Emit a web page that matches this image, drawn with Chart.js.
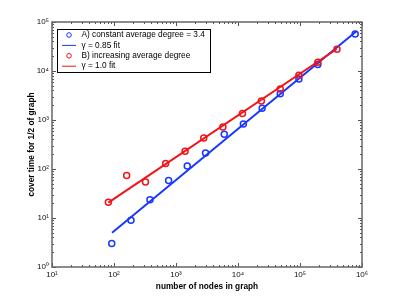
<!DOCTYPE html>
<html>
<head>
<meta charset="utf-8">
<script src="https://cdn.jsdelivr.net/npm/chart.js@4"></script>
<style>
  html, body { margin: 0; padding: 0; background: #fff; }
  #wrap { width: 400px; height: 300px; }
</style>
</head>
<body>
<div id="wrap"><canvas id="chart" width="400" height="300"></canvas></div>
<script>
// values
const blueX = [92, 188, 380, 760, 1520, 3000, 6000, 12200, 24500, 48000, 96000, 194000, 776000];
const blueY = [3.0, 9.0, 23.7, 58, 115, 213, 510, 830, 1730, 3450, 6900, 13500, 57000];
const blueFitX = [93, 813000];
const blueFitY = [5.0, 64500];

const redX = [81, 160, 322, 680, 1400, 2800, 5700, 11800, 23800, 48000, 96000, 194000, 395000];
const redY = [21, 74, 54, 129, 230, 430, 720, 1350, 2450, 4300, 8200, 15000, 27700];
const redFitX = [81, 391000];
const redFitY = [20.6, 28100];

const labels = ['A) constant average degree = 3.4', '\u03B3 = 0.85 fit', 'B) increasing average degree', '\u03B3 = 1.0 fit'];

const xMajor = [10, 100, 1000, 10000, 100000, 1000000];
const xTickLabels = ['10\u00B9', '10\u00B2', '10\u00B3', '10\u2074', '10\u2075', '10\u2076'];
const yMajor = [1, 10, 100, 1000, 10000, 100000];
const yTickLabels = ['10\u2070', '10\u00B9', '10\u00B2', '10\u00B3', '10\u2074', '10\u2075'];

const BLUE = 'rgb(25,55,255)';
const RED = 'rgb(240,20,25)';
const FONT = "'Liberation Sans', Helvetica, Arial, sans-serif";

// decade ticks plus the 2..9 minors in between
function withMinors(major){
  const out = [];
  major.forEach((m, i) => {
    out.push(m);
    if(i < major.length - 1) for(let k = 2; k <= 9; k++) out.push(m * k);
  });
  return out;
}
const xTicks = withMinors(xMajor);
const yTicks = withMinors(yMajor);

const pts = (xs, ys) => xs.map((x, i) => ({x: x, y: ys[i]}));

// box with inward ticks on all four sides
const boxTicks = {
  id: 'boxTicks',
  beforeDatasetsDraw(chart){
    const {ctx, chartArea: a, scales} = chart;
    ctx.save();
    ctx.strokeStyle = '#555';
    ctx.lineWidth = 1;
    ctx.beginPath();
    xTicks.forEach(v => {
      const px = Math.round(scales.x.getPixelForValue(v)) + 0.5;
      const len = xMajor.includes(v) ? 4 : 2;
      ctx.moveTo(px, a.bottom); ctx.lineTo(px, a.bottom - len);
      ctx.moveTo(px, a.top); ctx.lineTo(px, a.top + len);
    });
    yTicks.forEach(v => {
      const py = Math.round(scales.y.getPixelForValue(v)) + 0.5;
      const len = yMajor.includes(v) ? 4 : 2;
      ctx.moveTo(a.left, py); ctx.lineTo(a.left + len, py);
      ctx.moveTo(a.right, py); ctx.lineTo(a.right - len, py);
    });
    ctx.stroke();
    ctx.lineWidth = 1.5;
    ctx.strokeStyle = '#666';
    ctx.strokeRect(a.left, a.top, a.right - a.left, a.bottom - a.top);
    ctx.restore();
  }
};

// legend box in the upper left of the plot
const boxLegend = {
  id: 'boxLegend',
  afterDraw(chart){
    const {ctx, chartArea: a} = chart;
    const x0 = a.left + 5, y0 = a.top + 7, w = 153, h = 43;
    ctx.save();
    ctx.fillStyle = '#fff';
    ctx.fillRect(x0, y0, w, h);
    ctx.strokeStyle = '#000';
    ctx.lineWidth = 1;
    ctx.strokeRect(x0 + 0.5, y0 + 0.5, w, h);
    ctx.font = '8.3px ' + FONT;
    ctx.textBaseline = 'middle';
    chart.data.datasets.forEach((ds, i) => {
      const cy = y0 + 6 + i * 10.4;
      ctx.strokeStyle = ds.borderColor;
      ctx.lineWidth = 1;
      ctx.beginPath();
      if(ds.showLine){
        ctx.moveTo(x0 + 5, cy); ctx.lineTo(x0 + 19, cy);
      } else {
        ctx.arc(x0 + 12, cy, 2.3, 0, Math.PI * 2);
      }
      ctx.stroke();
      ctx.fillStyle = '#000';
      ctx.fillText(ds.label, x0 + 24.5, cy);
    });
    ctx.restore();
  }
};

new Chart(document.getElementById('chart'), {
  type: 'scatter',
  data: {
    datasets: [
      {label: labels[0], data: pts(blueX, blueY), borderColor: BLUE, backgroundColor: 'rgba(0,0,0,0)',
       pointRadius: 3, pointBorderWidth: 1.5, showLine: false, order: 3},
      {label: labels[1], data: pts(blueFitX, blueFitY), borderColor: BLUE, borderWidth: 2,
       pointRadius: 0, showLine: true, order: 2},
      {label: labels[2], data: pts(redX, redY), borderColor: RED, backgroundColor: 'rgba(0,0,0,0)',
       pointRadius: 3, pointBorderWidth: 1.5, showLine: false, order: 0},
      {label: labels[3], data: pts(redFitX, redFitY), borderColor: RED, borderWidth: 2,
       pointRadius: 0, showLine: true, order: 1}
    ]
  },
  options: {
    responsive: false,
    animation: false,
    devicePixelRatio: 1,
    layout: {padding: {left: 20, right: 38, top: 22, bottom: 6}},
    plugins: {legend: {display: false}, tooltip: {enabled: false}},
    scales: {
      x: {
        type: 'logarithmic', min: 10, max: 1000000,
        grid: {display: false, drawTicks: false}, border: {display: false},
        afterBuildTicks: s => { s.ticks = xTicks.map(v => ({value: v})); },
        afterFit: s => { s.height = 27; },
        ticks: {
          autoSkip: false, maxRotation: 0, padding: 3, color: '#111',
          font: {family: FONT, size: 8},
          callback: v => { const i = xMajor.indexOf(v); return i >= 0 ? xTickLabels[i] : ''; }
        },
        title: {display: true, text: 'number of nodes in graph', color: '#000',
          font: {family: FONT, size: 8.3, weight: 'bold'}, padding: {top: 0, bottom: 2}}
      },
      y: {
        type: 'logarithmic', min: 1, max: 100000,
        grid: {display: false, drawTicks: false}, border: {display: false},
        afterBuildTicks: s => { s.ticks = yTicks.map(v => ({value: v})); },
        afterFit: s => { s.width = 32; },
        ticks: {
          autoSkip: false, padding: 3, color: '#111',
          font: {family: FONT, size: 8},
          callback: v => { const i = yMajor.indexOf(v); return i >= 0 ? yTickLabels[i] : ''; }
        },
        title: {display: true, text: 'cover time for 1/2 of graph', color: '#000',
          font: {family: FONT, size: 8.3, weight: 'bold'}, padding: {top: 7, bottom: 0}}
      }
    }
  },
  plugins: [boxTicks, boxLegend]
});
</script>
</body>
</html>
